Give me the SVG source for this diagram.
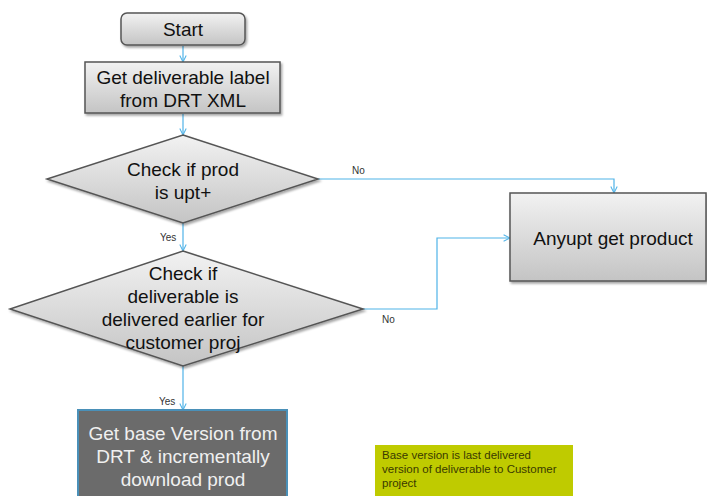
<svg xmlns="http://www.w3.org/2000/svg" width="707" height="496" viewBox="0 0 707 496">
<defs>
<linearGradient id="g" x1="0" y1="0" x2="0" y2="1"><stop offset="0" stop-color="#f2f2f2"/><stop offset="1" stop-color="#c4c4c4"/></linearGradient>
<marker id="ah" viewBox="0 0 10 10" refX="9" refY="5" markerWidth="8" markerHeight="8" orient="auto" markerUnits="userSpaceOnUse"><path d="M1,1 L9,5 L1,9" fill="none" stroke="#4fb3e8" stroke-width="1.3"/></marker>
<filter id="sh" x="-5%" y="-5%" width="115%" height="120%"><feDropShadow dx="1.5" dy="2" stdDeviation="1" flood-color="#000" flood-opacity="0.35"/></filter>
</defs>
<style>
.n{fill:url(#g);stroke:#555;stroke-width:1.5;filter:url(#sh)}
.t{font-family:"Liberation Sans",Arial,sans-serif;font-size:19px;fill:#111;text-anchor:middle}
.l{font-family:"Liberation Sans",Arial,sans-serif;font-size:10px;fill:#333}
.c{fill:none;stroke:#4fb3e8;stroke-width:1.2;marker-end:url(#ah)}
.w{fill:#f0f0f0}
.nt{font-family:"Liberation Sans",Arial,sans-serif;font-size:11.5px;fill:#3a3a00}
</style>
<rect width="707" height="496" fill="#fff"/>
<g id="connectors">
<line class="c" x1="183" y1="46" x2="183" y2="62"/>
<line class="c" x1="183" y1="114" x2="183" y2="135"/>
<polyline class="c" points="318,179 614,179 614,193"/>
<line class="c" x1="183" y1="223" x2="183" y2="251"/>
<polyline class="c" points="363,309 437,309 437,238 510,238"/>
<line class="c" x1="183" y1="366" x2="183" y2="410"/>
<text class="l" x="352" y="174">No</text>
<text class="l" x="160" y="241">Yes</text>
<text class="l" x="382" y="323">No</text>
<text class="l" x="159" y="405">Yes</text>
</g>
<g id="start">
<rect class="n" x="121" y="13" width="124" height="32" rx="6"/>
<text class="t" x="183" y="36">Start</text>
</g>
<g id="getlabel">
<rect class="n" x="85" y="62" width="195" height="51"/>
<text class="t" x="183" y="84">Get deliverable label</text>
<text class="t" x="183" y="107">from DRT XML</text>
</g>
<g id="check1">
<polygon class="n" points="183,135 318,179 183,223 47,179"/>
<text class="t" x="183" y="176">Check if prod</text>
<text class="t" x="183" y="199">is upt+</text>
</g>
<g id="check2">
<polygon class="n" points="183,251 363,309 183,366 10,309"/>
<text class="t" x="183" y="280">Check if</text>
<text class="t" x="183" y="303">deliverable is</text>
<text class="t" x="183" y="326">delivered earlier for</text>
<text class="t" x="183" y="349">customer proj</text>
</g>
<g id="anyupt">
<rect class="n" x="510" y="193" width="196" height="88"/>
<text class="t" x="613" y="245">Anyupt get product</text>
</g>
<g id="getbase">
<rect x="78" y="410" width="209" height="90" fill="#6b6b6b" stroke="#4a90b8" stroke-width="2"/>
<text class="t w" x="183" y="440">Get base Version from</text>
<text class="t w" x="183" y="463">DRT &amp; incrementally</text>
<text class="t w" x="183" y="486">download prod</text>
</g>
<g id="note">
<rect x="375" y="445" width="198" height="51" fill="#bfcb00"/>
<text class="nt" x="382" y="459">Base version is last delivered</text>
<text class="nt" x="382" y="473">version of deliverable to Customer</text>
<text class="nt" x="382" y="487">project</text>
</g>
</svg>
